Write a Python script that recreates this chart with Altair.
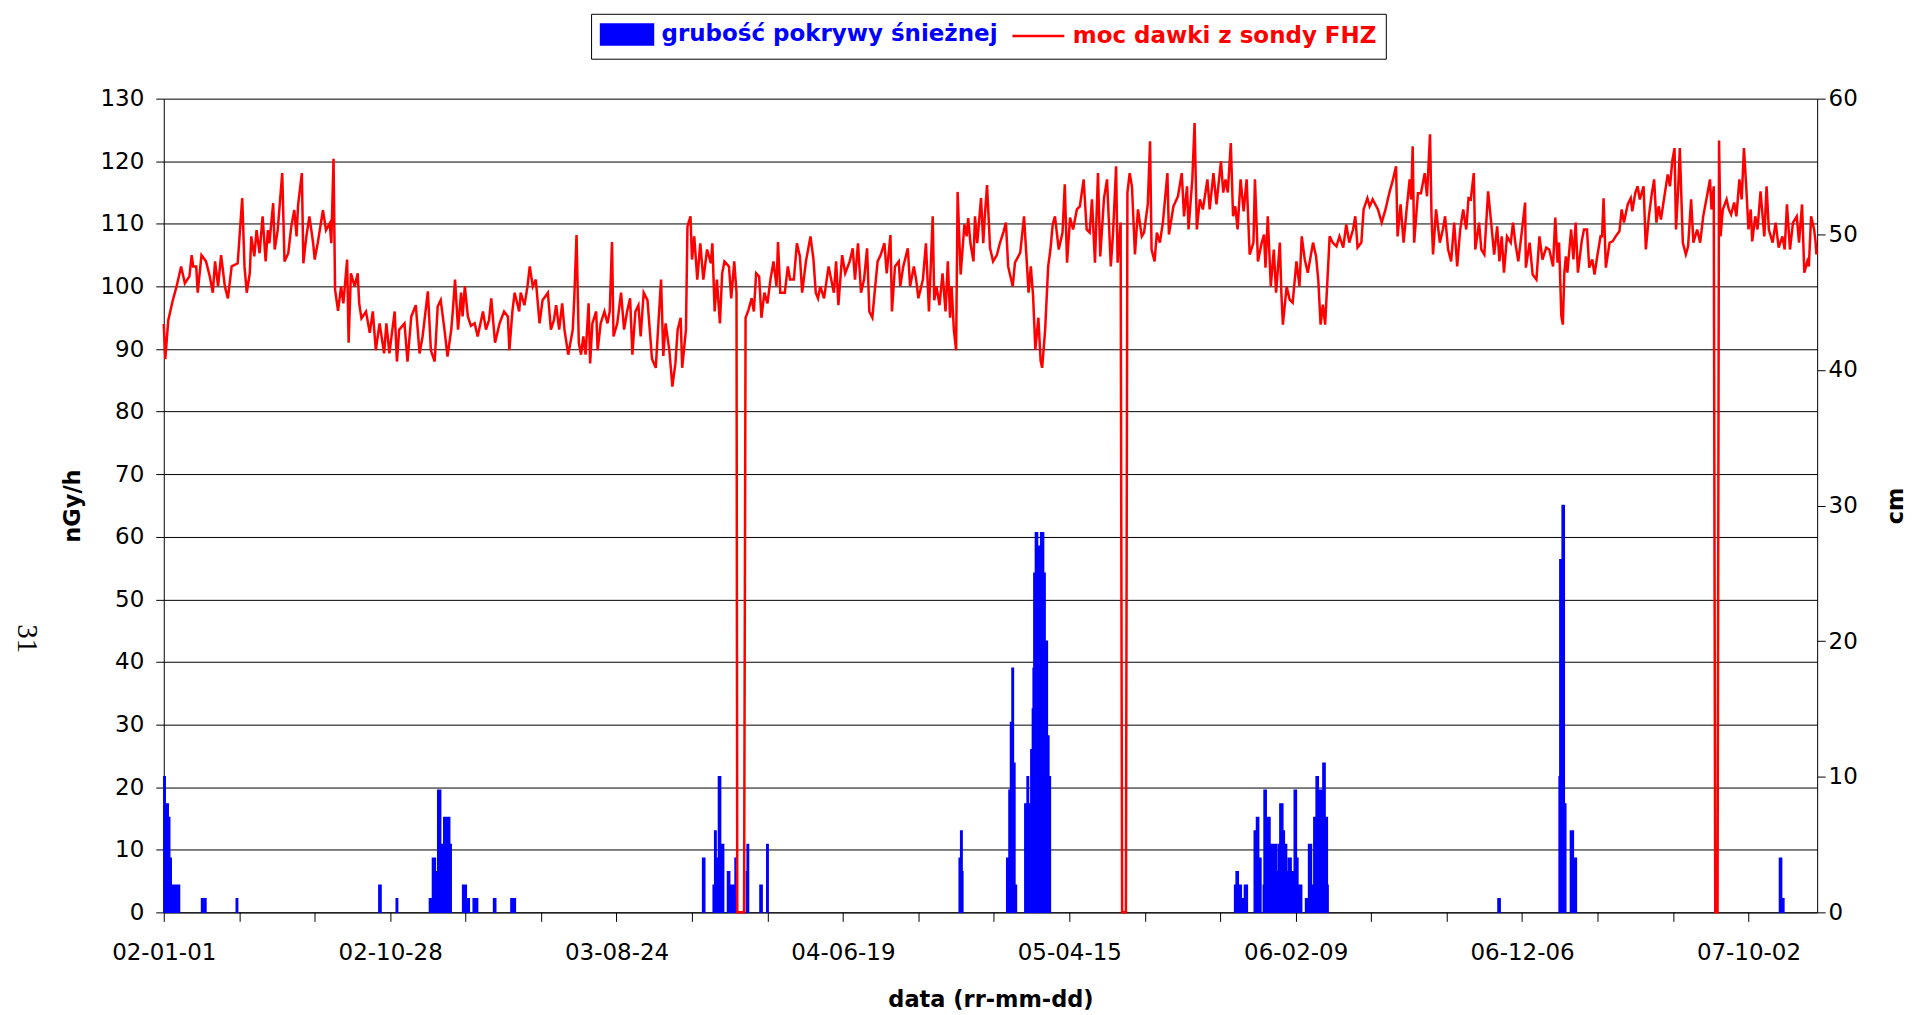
import altair as alt
import pandas as pd

FONT = "DejaVu Sans"
DOSE_LABEL = "moc dawki z sondy FHZ"
SNOW_LABEL = "grubość pokrywy śnieżnej"
START_DATE = (2002, 0, 1)          # day 0 = 2002-01-01
N_DAYS = 2191                      # 2002-01-01 .. 2007-12-31
X_TICKS = [0, 100, 200, 300, 400, 500, 600, 700, 800, 900, 1000, 1100,
           1200, 1300, 1400, 1500, 1600, 1700, 1800, 1900, 2000, 2100]
LABEL_STEP = 300
Y_LEFT_TICKS = [0, 10, 20, 30, 40, 50, 60, 70, 80, 90, 100, 110, 120, 130]
Y_RIGHT_TICKS = [0, 10, 20, 30, 40, 50, 60]
PAGE_NUMBER = "31"

# dose rate (nGy/h): (day since 2002-01-01, value)
dose_2002 = [
    (0, 94.0), (2, 88.4), (6, 94.6), (12, 97.8), (17, 100.0), (21, 102.1), (23, 103.2), (28, 100.5),
    (34, 101.6), (37, 105.0), (39, 103.2), (43, 103.2), (45, 99.0), (50, 105.0), (56, 104.0),
    (61, 101.6), (65, 99.0), (68, 104.0), (72, 100.0), (76, 105.0), (81, 100.0), (85, 98.1),
    (90, 103.2), (98, 103.7), (101, 109.0), (104, 114.1), (107, 103.2), (110, 99.0), (114, 102.1),
    (116, 108.0), (120, 104.8), (123, 109.0), (127, 105.3), (131, 111.2), (135, 104.0), (138, 109.0),
    (140, 106.9), (145, 113.3), (147, 105.9), (151, 109.0), (157, 118.1), (160, 104.0), (165, 105.3),
    (169, 109.6), (173, 112.2), (176, 108.0), (178, 113.0), (183, 118.1), (185, 103.7), (189, 108.0),
    (193, 111.2), (198, 106.9), (200, 104.3), (204, 106.9), (211, 112.2), (215, 109.0), (220, 110.1),
    (222, 106.9), (225, 120.4), (227, 99.5), (231, 96.1), (235, 100.0), (238, 97.3), (243, 104.3),
    (245, 91.0), (248, 102.1), (253, 100.0), (257, 102.1), (259, 97.3), (262, 94.9), (268, 96.0),
    (273, 92.6), (277, 96.0), (281, 89.8), (286, 94.1), (292, 89.3), (295, 94.1), (299, 89.3),
    (306, 96.0), (309, 88.0), (312, 93.1), (319, 94.1), (323, 88.0), (328, 95.2), (334, 97.0),
    (339, 89.3), (343, 92.0), (350, 99.2), (354, 89.8), (359, 88.0), (363, 96.8),
]
dose_2003 = [
    (367, 97.8), (372, 93.1), (376, 88.8), (381, 93.1), (383, 96.0), (386, 101.1), (390, 93.1),
    (394, 99.0), (396, 95.2), (399, 100.0), (403, 95.2), (407, 93.7), (412, 94.1), (416, 92.0),
    (423, 96.0), (427, 93.1), (431, 94.6), (434, 98.1), (439, 91.0), (445, 94.1), (451, 96.0),
    (456, 95.2), (458, 89.8), (462, 96.0), (465, 99.0), (471, 96.0), (473, 99.0), (478, 97.0),
    (482, 100.0), (485, 103.2), (489, 100.0), (493, 101.1), (498, 94.1), (502, 97.8), (509, 99.0),
    (513, 93.1), (517, 94.6), (520, 97.0), (524, 93.1), (528, 97.3), (531, 93.1), (536, 89.1),
    (542, 93.1), (544, 98.1), (547, 108.2), (550, 91.0), (553, 89.1), (556, 92.0), (559, 89.1),
    (563, 97.3), (565, 87.7), (568, 94.1), (573, 96.0), (575, 89.8), (579, 94.1), (584, 96.0),
    (588, 94.1), (591, 96.0), (594, 107.1), (596, 92.0), (601, 94.1), (606, 99.0), (610, 93.1),
    (614, 96.0), (618, 98.1), (621, 89.1), (625, 96.0), (629, 97.0), (632, 92.0), (636, 99.0),
    (641, 97.8), (647, 88.4), (652, 87.0), (655, 93.1), (659, 101.1), (662, 88.9), (665, 94.1),
    (670, 89.8), (674, 84.0), (678, 87.7), (681, 93.1), (685, 95.0), (687, 87.0), (692, 93.1),
    (694, 109.6), (698, 111.2), (700, 104.3), (703, 108.0), (707, 101.1), (711, 106.9), (715, 101.1),
    (720, 105.9), (725, 103.7), (727, 106.9), (730, 96.0),
]
dose_2004 = [
    (733, 101.1), (737, 94.1), (740, 102.1), (743, 104.0), (749, 103.2), (752, 98.1), (756, 104.0),
    (759, 99.0), (760, 0.0), (769, 0.0), (771, 95.0), (775, 96.3), (779, 98.1), (782, 96.0),
    (785, 102.1), (789, 101.6), (792, 95.0), (796, 99.0), (800, 97.3), (804, 101.1), (808, 104.0),
    (812, 100.0), (814, 107.1), (817, 99.0), (823, 99.0), (827, 103.2), (830, 101.1), (835, 101.1),
    (839, 106.9), (843, 104.8), (846, 99.0), (851, 104.0), (857, 108.0), (861, 104.3), (864, 99.0),
    (867, 98.1), (870, 100.0), (875, 98.1), (881, 103.2), (888, 99.0), (891, 104.0), (894, 97.0),
    (899, 105.0), (903, 102.1), (909, 104.0), (913, 106.1), (916, 101.1), (920, 106.9), (924, 99.0),
    (928, 101.1), (932, 106.1), (935, 96.0), (939, 95.0), (942, 99.0), (946, 104.0), (950, 105.0),
    (955, 106.9), (958, 102.1), (963, 108.2), (965, 96.0), (969, 103.2), (974, 104.0), (976, 100.0),
    (980, 103.2), (986, 106.1), (989, 100.0), (994, 103.2), (997, 101.1), (1000, 98.1), (1006, 101.1),
    (1010, 106.9), (1014, 96.0), (1019, 111.2), (1021, 97.8), (1024, 100.0), (1028, 97.0),
    (1032, 102.1), (1036, 96.0), (1039, 104.0), (1042, 95.0), (1044, 100.0), (1047, 93.1),
    (1050, 89.8), (1052, 115.1), (1056, 101.9), (1061, 109.9), (1064, 108.0), (1066, 110.9),
    (1069, 106.9), (1073, 104.0), (1075, 111.2), (1078, 106.9), (1083, 114.1), (1086, 106.9),
    (1088, 111.2), (1091, 116.2), (1095, 106.1),
]
dose_2005 = [
    (1099, 104.0), (1104, 105.0), (1108, 106.9), (1113, 108.8), (1116, 110.2), (1119, 103.2),
    (1125, 100.0), (1128, 103.8), (1135, 105.4), (1140, 111.2), (1144, 103.2), (1146, 99.0),
    (1149, 103.2), (1152, 98.5), (1155, 89.9), (1159, 95.0), (1162, 88.1), (1164, 87.0), (1168, 93.1),
    (1172, 103.2), (1175, 105.9), (1178, 109.9), (1181, 111.2), (1186, 105.9), (1191, 108.6),
    (1194, 116.3), (1197, 103.8), (1201, 111.0), (1205, 109.1), (1210, 112.3), (1214, 112.8),
    (1219, 117.1), (1223, 109.1), (1227, 108.6), (1230, 113.9), (1234, 103.8), (1238, 118.1),
    (1241, 104.8), (1246, 114.1), (1250, 117.1), (1255, 103.2), (1258, 108.6), (1262, 119.2),
    (1264, 103.8), (1268, 110.2), (1270, 0.0), (1275, 0.0), (1277, 115.0), (1280, 118.1),
    (1283, 116.0), (1287, 105.1), (1291, 112.3), (1296, 108.0), (1299, 108.6), (1304, 113.1),
    (1307, 123.2), (1309, 105.9), (1313, 104.0), (1316, 108.6), (1320, 107.0), (1324, 110.2),
    (1330, 118.1), (1332, 108.3), (1338, 112.8), (1344, 114.4), (1349, 118.1), (1352, 111.2),
    (1356, 116.0), (1358, 109.1), (1363, 117.1), (1366, 126.1), (1369, 109.1), (1373, 113.9),
    (1377, 112.3), (1383, 117.1), (1386, 112.3), (1391, 118.1), (1395, 113.1), (1401, 120.0),
    (1404, 115.0), (1407, 117.1), (1410, 115.0), (1414, 122.9), (1417, 111.2), (1420, 112.8),
    (1423, 109.1), (1427, 117.1), (1431, 112.0), (1435, 117.1), (1439, 105.1), (1444, 107.0),
    (1446, 117.1), (1450, 104.0), (1455, 107.0), (1458, 108.3), (1460, 103.0),
]
dose_2006 = [
    (1463, 111.2), (1467, 100.0), (1471, 105.9), (1474, 99.0), (1479, 107.0), (1481, 99.0),
    (1483, 93.9), (1488, 100.0), (1492, 97.9), (1496, 97.4), (1501, 104.0), (1505, 100.0),
    (1508, 108.0), (1512, 104.3), (1516, 102.2), (1523, 107.0), (1527, 104.8), (1530, 100.9),
    (1533, 93.9), (1536, 97.1), (1539, 93.9), (1543, 103.2), (1545, 108.0), (1549, 107.0),
    (1554, 106.4), (1558, 108.0), (1563, 106.2), (1567, 109.9), (1571, 107.0), (1576, 109.1),
    (1579, 111.2), (1582, 106.2), (1587, 107.0), (1590, 112.3), (1595, 114.1), (1598, 112.8),
    (1602, 113.9), (1609, 112.3), (1614, 110.2), (1619, 112.3), (1624, 114.9), (1629, 117.1),
    (1633, 119.2), (1635, 108.0), (1639, 113.1), (1643, 107.0), (1647, 112.3), (1651, 117.1),
    (1653, 113.9), (1655, 122.4), (1657, 107.0), (1662, 114.9), (1666, 114.9), (1671, 118.1),
    (1674, 114.4), (1678, 124.3), (1680, 111.2), (1682, 105.1), (1686, 112.3), (1691, 107.0),
    (1695, 109.1), (1698, 111.2), (1702, 105.9), (1706, 104.0), (1710, 110.2), (1714, 103.2),
    (1718, 109.1), (1722, 112.3), (1726, 109.1), (1729, 114.1), (1732, 113.9), (1736, 118.1),
    (1738, 105.9), (1743, 110.2), (1746, 105.9), (1750, 105.1), (1755, 115.2), (1759, 110.2),
    (1763, 105.1), (1767, 109.6), (1770, 104.0), (1773, 108.0), (1776, 102.2), (1780, 108.0),
    (1785, 107.0), (1788, 110.2), (1791, 107.0), (1795, 104.0), (1800, 109.1), (1804, 113.4),
    (1805, 103.0), (1810, 107.0), (1814, 101.9), (1819, 101.1), (1823, 108.0),
]
dose_2007 = [
    (1827, 104.3), (1832, 106.2), (1836, 105.9), (1841, 103.2), (1844, 111.0), (1847, 103.8),
    (1849, 107.0), (1852, 95.3), (1854, 93.9), (1856, 102.2), (1858, 104.8), (1860, 102.2),
    (1865, 109.1), (1868, 104.3), (1871, 110.2), (1874, 102.2), (1879, 107.2), (1882, 109.1),
    (1886, 109.1), (1889, 103.0), (1893, 104.3), (1896, 101.9), (1900, 105.1), (1904, 108.0),
    (1906, 108.0), (1908, 114.1), (1911, 103.0), (1916, 107.0), (1920, 107.2), (1924, 108.0),
    (1929, 108.8), (1932, 112.3), (1935, 110.2), (1940, 113.1), (1944, 114.1), (1946, 112.0),
    (1950, 114.9), (1953, 116.0), (1956, 113.9), (1961, 116.0), (1964, 105.9), (1968, 111.2),
    (1972, 114.9), (1975, 117.1), (1978, 110.2), (1981, 112.8), (1984, 110.7), (1988, 113.9),
    (1993, 117.9), (1996, 116.0), (1999, 120.0), (2002, 122.1), (2004, 109.1), (2007, 116.0),
    (2009, 122.1), (2013, 107.0), (2017, 105.1), (2020, 106.4), (2024, 113.9), (2027, 107.0),
    (2032, 109.1), (2036, 107.0), (2040, 111.2), (2045, 114.4), (2049, 117.1), (2051, 112.3),
    (2054, 116.0), (2056, 0.0), (2059, 0.0), (2061, 123.3), (2063, 108.0), (2066, 112.3),
    (2071, 113.9), (2074, 112.3), (2077, 111.5), (2081, 113.4), (2084, 111.2), (2088, 117.1),
    (2091, 113.9), (2094, 122.1), (2097, 116.0), (2100, 109.1), (2103, 112.3), (2105, 107.2),
    (2109, 111.2), (2112, 109.1), (2116, 115.2), (2121, 108.0), (2124, 116.0), (2127, 109.1),
    (2132, 107.0), (2136, 110.2), (2140, 106.2), (2145, 108.0), (2148, 105.9), (2151, 113.1),
    (2155, 105.9), (2159, 110.2), (2164, 111.2), (2167, 107.0), (2171, 113.1), (2174, 102.2),
    (2178, 104.0), (2180, 103.2), (2183, 111.2), (2187, 109.1), (2189, 107.0), (2190, 105.1),
]

# snow cover (cm): (first day, last day, depth) runs of equal daily depth
snow_2002 = [
    (0, 1, 10), (2, 5, 8), (6, 7, 7), (8, 9, 4), (10, 20, 2), (50, 51, 1), (53, 55, 1), (96, 97, 1),
    (285, 287, 2), (308, 309, 1),
]
snow_2003 = [
    (352, 355, 1), (356, 359, 4), (360, 362, 3), (363, 366, 9), (367, 370, 5), (371, 378, 7),
    (379, 380, 5), (396, 400, 2), (401, 404, 1), (410, 415, 1), (437, 439, 1), (460, 465, 1),
]
snow_2004 = [
    (714, 716, 4), (728, 729, 2), (730, 731, 6), (732, 734, 4), (735, 737, 10), (738, 741, 5),
    (747, 749, 3), (750, 755, 2), (757, 759, 4), (772, 772, 3), (773, 774, 5), (790, 792, 2),
    (799, 800, 5), (1054, 1055, 4), (1056, 1057, 6), (1058, 1058, 3),
]
snow_2005 = [
    (1117, 1119, 4), (1120, 1121, 9), (1122, 1123, 14), (1124, 1125, 18), (1126, 1127, 11),
    (1128, 1129, 2), (1141, 1143, 8), (1144, 1145, 10), (1146, 1148, 8), (1149, 1150, 12),
    (1151, 1151, 15), (1152, 1152, 18), (1153, 1154, 25), (1155, 1157, 28), (1158, 1161, 27),
    (1162, 1165, 28), (1166, 1167, 25), (1168, 1170, 20), (1171, 1172, 13), (1173, 1174, 10),
]
snow_2006 = [
    (1419, 1420, 2), (1421, 1423, 3), (1424, 1427, 2), (1428, 1430, 1), (1432, 1435, 2),
    (1445, 1447, 6), (1448, 1450, 7), (1451, 1453, 4), (1457, 1457, 2), (1458, 1460, 9),
    (1461, 1465, 7), (1466, 1474, 5), (1475, 1476, 3), (1477, 1478, 5), (1479, 1482, 8),
    (1483, 1484, 6), (1485, 1487, 5), (1488, 1489, 3), (1490, 1493, 4), (1494, 1497, 3),
    (1498, 1500, 9), (1501, 1502, 4), (1503, 1507, 2), (1513, 1516, 1), (1517, 1520, 5),
    (1521, 1523, 2), (1524, 1526, 7), (1527, 1529, 10), (1530, 1535, 9), (1536, 1538, 11),
    (1539, 1541, 7), (1542, 1542, 2),
]
snow_2007 = [
    (1768, 1770, 1), (1849, 1849, 10), (1850, 1852, 26), (1853, 1855, 30), (1856, 1857, 8),
    (1864, 1867, 6), (1868, 1871, 4), (2141, 2143, 4), (2144, 2146, 1),
]

dose_points = dose_2002 + dose_2003 + dose_2004 + dose_2005 + dose_2006 + dose_2007
snow_runs = snow_2002 + snow_2003 + snow_2004 + snow_2005 + snow_2006 + snow_2007

dose_df = pd.DataFrame(dose_points, columns=["day", "value"])
dose_df["series"] = DOSE_LABEL
snow_df = pd.DataFrame(snow_runs, columns=["start", "last", "cm"])
snow_df["end"] = snow_df["last"] + 1
snow_df["series"] = SNOW_LABEL
page_df = pd.DataFrame({"t": [PAGE_NUMBER]})

IS_DOSE = "datum.value === '" + DOSE_LABEL + "'"
legend = alt.Legend(
    orient="none", legendX=428, legendY=-85, direction="horizontal", title=None,
    labelFont=FONT, labelFontSize=23, labelFontWeight="bold", labelLimit=600,
    labelColor={"expr": IS_DOSE + " ? '#ff0000' : '#0000ff'"},
    symbolType={"expr": IS_DOSE + " ? 'M-2.6,0H2.6' : 'M-2.6,-1H2.6V1H-2.6Z'"},
    symbolFillColor={"expr": IS_DOSE + " ? 'transparent' : '#0000ff'"},
    symbolStrokeColor={"expr": IS_DOSE + " ? '#ff0000' : '#0000ff'"},
    symbolSize=400, symbolStrokeWidth=2.5, symbolOpacity=1,
    symbolOffset=15.5, labelOffset=23,
    columnPadding=9, padding=9, strokeColor="black", fillColor="white",
)
color = alt.Color(
    "series:N",
    scale=alt.Scale(domain=[SNOW_LABEL, DOSE_LABEL], range=["#0000ff", "#ff0000"]),
    legend=legend,
)

x_label_expr = (
    "datum.value % " + str(LABEL_STEP) + " === 0 ? timeFormat(datetime("
    + str(START_DATE[0]) + ", " + str(START_DATE[1]) + ", " + str(START_DATE[2])
    + " + datum.value), '%y-%m-%d') : ''"
)
x_scale = alt.Scale(domain=[0, N_DAYS], nice=False, zero=False)
x_axis = alt.Axis(
    values=X_TICKS, labelExpr=x_label_expr, title="data (rr-mm-dd)", grid=False,
    tickSize=9, tickColor="black", domainColor="black", labelOverlap=False, labelFlush=False,
    labelFont=FONT, labelFontSize=23, labelColor="black", labelPadding=20,
    titleFont=FONT, titleFontSize=22.5, titleFontWeight="bold", titleColor="black",
    titleY=87, titleBaseline="middle",
)

bars = alt.Chart(snow_df).mark_rect(stroke="#0000ff", strokeWidth=1.4).encode(
    x=alt.X("start:Q", scale=x_scale, axis=x_axis),
    x2="end:Q",
    y=alt.Y("cm:Q", scale=alt.Scale(domain=[0, 60], nice=False),
            axis=alt.Axis(orient="right", values=Y_RIGHT_TICKS, grid=False, title="cm",
                          tickSize=8, tickColor="black", domainColor="black",
                          labelFont=FONT, labelFontSize=23, labelColor="black", labelPadding=3,
                          titleFont=FONT, titleFontSize=22.5, titleFontWeight="bold",
                          titleColor="black", titleAngle=270, titleX=78, titleY=407.5,
                          titleAlign="center", titleBaseline="middle")),
    y2=alt.datum(0),
    color=color,
)

line = alt.Chart(dose_df).mark_line(strokeWidth=2.5).encode(
    x=alt.X("day:Q", scale=x_scale, axis=x_axis),
    y=alt.Y("value:Q", scale=alt.Scale(domain=[0, 130], nice=False),
            axis=alt.Axis(orient="left", values=Y_LEFT_TICKS, grid=True, gridColor="black",
                          gridWidth=1, gridOpacity=1, title="nGy/h",
                          tickSize=8, tickColor="black", domainColor="black",
                          labelFont=FONT, labelFontSize=23, labelColor="black", labelPadding=12,
                          titleFont=FONT, titleFontSize=22.5, titleFontWeight="bold",
                          titleColor="black", titleAngle=270, titleX=-91, titleY=407.5,
                          titleAlign="center", titleBaseline="middle")),
    color=color,
    order="day:Q",
)

page = alt.Chart(page_df).mark_text(
    angle=90, font="Liberation Serif", fontSize=29, color="black"
).encode(x=alt.value(-137), y=alt.value(541), text="t:N")

chart = alt.layer(bars, line, page).resolve_scale(y="independent").properties(
    width=1656, height=815,
    autosize=alt.AutoSizeParams(type="none"),
    padding={"left": 156, "top": 90, "right": 90, "bottom": 100},
).configure(font=FONT).configure_view(stroke=None)

chart.save("out.html", embed_options={"renderer": "svg", "actions": False})
